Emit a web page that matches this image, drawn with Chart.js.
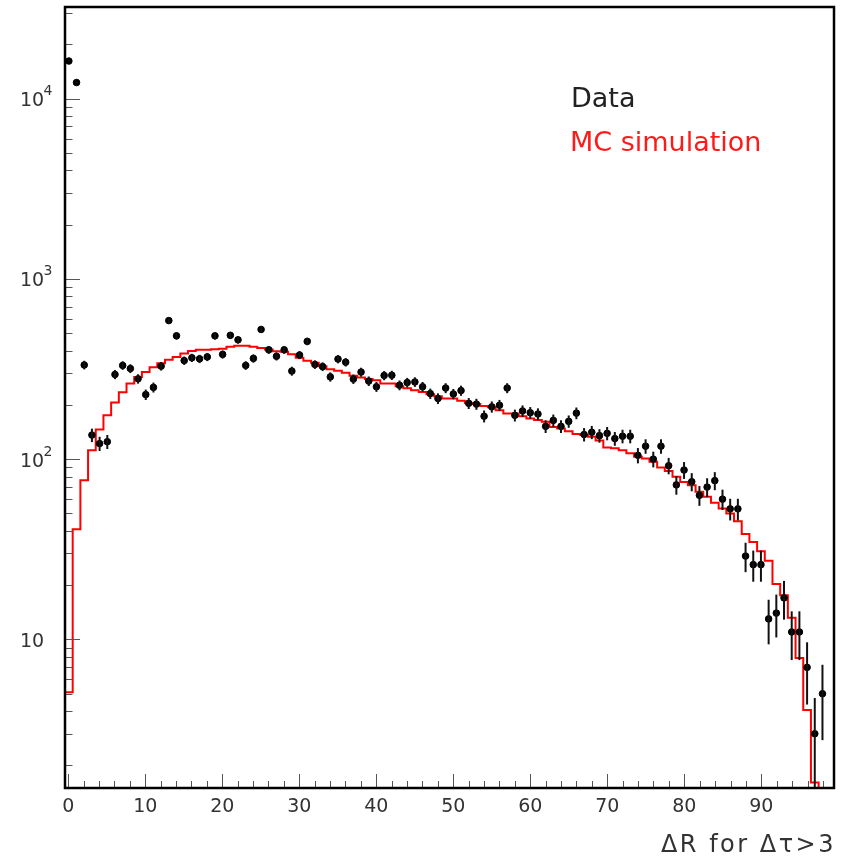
<!DOCTYPE html>
<html>
<head>
<meta charset="utf-8">
<script src="https://cdn.jsdelivr.net/npm/chart.js@4.4.1/dist/chart.umd.min.js"></script>
<style>
body { margin: 0; background: #fff; }
#wrap { width: 850px; height: 864px; }
</style>
</head>
<body>
<div id="wrap"><canvas id="chart" width="850" height="864"></canvas></div>
<script>
// histogram binning (100 bins)
const binLow = -0.42;
const binHigh = 99.44;

// data counts per bin (null = empty bin, not drawn on log scale)
const dataCounts = [
  16150, 12270, 333, 136, 122, 125, 295, 331, 318, 279,
  228, 250, 328, 587, 483, 352, 365, 360, 369, 483,
  381, 486, 459, 331, 362, 524, 404, 372, 404, 308,
  378, 450, 335, 326, 286, 359, 345, 278, 304, 271,
  252, 291, 292, 257, 266, 268, 252, 231, 217, 248,
  230, 240, 204, 202, 173, 195, 199, 248, 175, 185,
  181, 178, 152, 164, 152, 162, 180, 137, 141, 135,
  139, 130, 134, 134, 105, 118, 100, 118, 92, 72,
  87, 75, 63, 70, 76, 60, 53, 53, 29, 26,
  26, 13, 14, 17, 11, 11, 7, 3, 5, null
];

// MC simulation per bin
const mcCounts = [
  5.1, 40.8, 76.5, 112, 146, 175, 206, 235, 263, 286,
  304, 323, 340, 356, 369, 385, 398, 404, 404, 407,
  410, 420, 425, 425, 420, 414, 406, 397, 394, 382,
  365, 351, 342, 328, 315, 309, 301, 290, 284, 278,
  274, 263, 263, 254, 247, 241, 236, 229, 223, 217,
  217, 211, 205, 202, 197, 194, 187, 179, 179, 173,
  168, 165, 161, 151, 148, 143, 138, 136, 133, 127,
  116, 115, 112, 108, 103, 101, 96.7, 90, 86, 79.8,
  74.8, 71.7, 65.9, 61.8, 57.3, 53.3, 50, 45.3, 38.5, 34.7,
  30.8, 27.3, 20.3, 17.6, 13.2, 7.9, 4.06, 1.61, 0, 0
];

const xTicks = [0, 10, 20, 30, 40, 50, 60, 70, 80, 90];
const xTickLabels = ['0', '10', '20', '30', '40', '50', '60', '70', '80', '90'];
const yMajorTicks = [10, 100, 1000, 10000];
const yTickBase = ['10', '10', '10', '10'];
const yTickExp = ['', '2', '3', '4'];
const yMin = 1.5;
const yMax = 32200;

const legendLabels = ['Data', 'MC simulation'];
const axisTitle = 'ΔR for Δτ>3';

const nBins = mcCounts.length;
const binWidth = (binHigh - binLow) / nBins;

const dataPoints = [];
dataCounts.forEach((v, i) => {
  if (v !== null) dataPoints.push({ x: binLow + (i + 0.5) * binWidth, y: v });
});

// step outline for the MC histogram
const floorVal = yMin / 20;
const mcPoints = [{ x: binLow, y: floorVal }];
mcCounts.forEach((v, i) => {
  const y = v > 0 ? v : floorVal;
  mcPoints.push({ x: binLow + i * binWidth, y: y });
  mcPoints.push({ x: binLow + (i + 1) * binWidth, y: y });
});

const errorBars = {
  id: 'errorBars',
  afterDatasetsDraw(chart) {
    const ctx = chart.ctx;
    const xs = chart.scales.x, ys = chart.scales.y;
    const area = chart.chartArea;
    ctx.save();
    ctx.beginPath();
    ctx.rect(area.left, area.top, area.right - area.left, area.bottom - area.top);
    ctx.clip();
    ctx.strokeStyle = '#111';
    ctx.lineWidth = 2;
    dataPoints.forEach(p => {
      const err = Math.sqrt(p.y);
      const lo = Math.max(p.y - err, yMin / 10);
      const px = xs.getPixelForValue(p.x);
      ctx.beginPath();
      ctx.moveTo(px, ys.getPixelForValue(lo));
      ctx.lineTo(px, ys.getPixelForValue(p.y + err));
      ctx.stroke();
    });
    ctx.restore();
  }
};

const frame = {
  id: 'frame',
  afterDraw(chart) {
    const ctx = chart.ctx;
    const xs = chart.scales.x, ys = chart.scales.y;
    const a = chart.chartArea;
    ctx.save();

    // ticks pointing inwards
    ctx.strokeStyle = '#555';
    ctx.lineWidth = 1;
    for (let v = 0; v <= binHigh; v += 2) {
      const px = Math.round(xs.getPixelForValue(v)) + 0.5;
      const len = v % 10 === 0 ? 14 : 7;
      ctx.beginPath();
      ctx.moveTo(px, a.bottom);
      ctx.lineTo(px, a.bottom - len);
      ctx.stroke();
    }
    [1, 10, 100, 1000, 10000].forEach(dec => {
      for (let m = 1; m <= 9; m++) {
        const v = m * dec;
        if (v < yMin || v > yMax) continue;
        const py = Math.round(ys.getPixelForValue(v)) + 0.5;
        const len = m === 1 ? 15 : 7.5;
        ctx.beginPath();
        ctx.moveTo(a.left, py);
        ctx.lineTo(a.left + len, py);
        ctx.stroke();
      }
    });

    // frame
    ctx.strokeStyle = '#000';
    ctx.lineWidth = 2.5;
    ctx.strokeRect(a.left, a.top, a.right - a.left, a.bottom - a.top);

    // tick labels
    ctx.fillStyle = '#333';
    ctx.textBaseline = 'alphabetic';
    ctx.font = '19px "DejaVu Sans"';
    ctx.textAlign = 'center';
    xTicks.forEach((v, i) => {
      ctx.fillText(xTickLabels[i], xs.getPixelForValue(v), a.bottom + 24);
    });
    yMajorTicks.forEach((v, i) => {
      const py = ys.getPixelForValue(v);
      ctx.textAlign = 'left';
      ctx.font = '19px "DejaVu Sans"';
      ctx.fillText(yTickBase[i], 20, py + 7.5);
      if (yTickExp[i]) {
        ctx.font = '14px "DejaVu Sans"';
        ctx.fillText(yTickExp[i], 43.5, py - 3.5);
      }
    });

    // axis title
    ctx.textAlign = 'right';
    ctx.font = '24px "DejaVu Sans"';
    ctx.letterSpacing = '2.5px';
    ctx.fillStyle = '#333';
    ctx.fillText(axisTitle, a.right + 2, 852);
    ctx.letterSpacing = '0px';

    // legend text
    ctx.textAlign = 'left';
    ctx.font = '27px "DejaVu Sans"';
    ctx.fillStyle = '#222';
    ctx.fillText(legendLabels[0], 571, 107);
    ctx.fillStyle = '#ff1a1a';
    ctx.fillText(legendLabels[1], 570, 151);

    ctx.restore();
  }
};

const ctx = document.getElementById('chart').getContext('2d');
new Chart(ctx, {
  type: 'scatter',
  data: {
    datasets: [
      {
        label: legendLabels[0],
        data: dataPoints,
        backgroundColor: '#000',
        borderColor: '#000',
        pointRadius: 3.3,
        pointHoverRadius: 3.3,
        showLine: false
      },
      {
        type: 'line',
        label: legendLabels[1],
        data: mcPoints,
        borderColor: '#ff0000',
        borderWidth: 2,
        pointRadius: 0,
        fill: false,
        tension: 0
      }
    ]
  },
  options: {
    responsive: false,
    animation: false,
    layout: { padding: { top: 7, right: 16, left: 0, bottom: 0 } },
    plugins: {
      legend: { display: false },
      tooltip: { enabled: false }
    },
    scales: {
      x: {
        type: 'linear',
        min: binLow,
        max: binHigh,
        ticks: { display: false },
        grid: { display: false },
        border: { display: false },
        afterFit: s => { s.height = 76; }
      },
      y: {
        type: 'logarithmic',
        min: yMin,
        max: yMax,
        ticks: { display: false },
        grid: { display: false },
        border: { display: false },
        afterFit: s => { s.width = 65; }
      }
    }
  },
  plugins: [errorBars, frame]
});
</script>
</body>
</html>
